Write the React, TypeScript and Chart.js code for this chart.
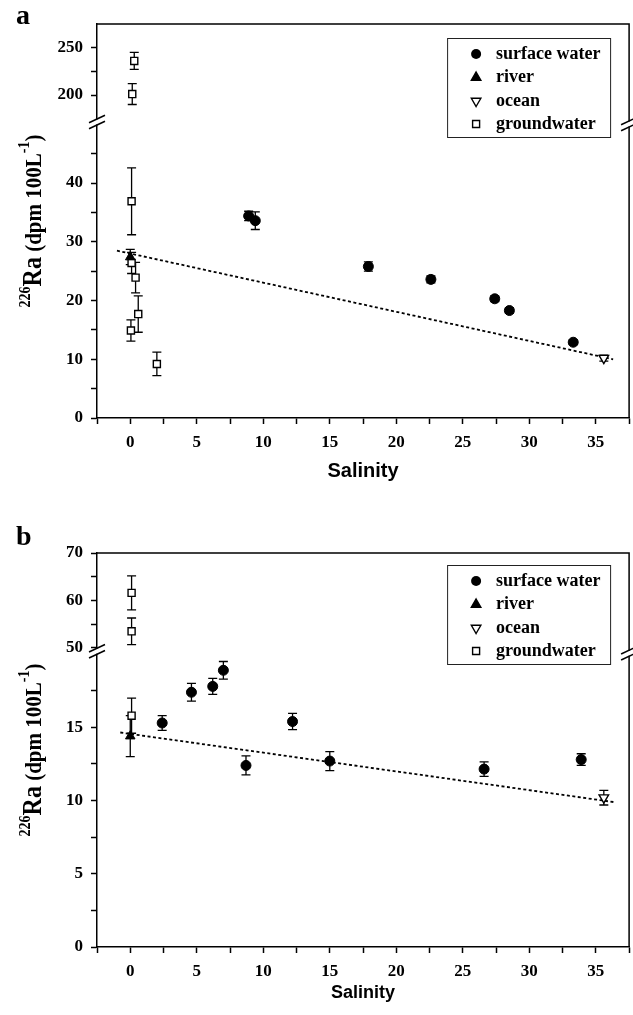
import React, { useEffect, useRef } from 'react';
import { Chart, registerables } from 'chart.js';

Chart.register(...registerables);

// ---------------- Shared ----------------
const seriesNames = ['surface water', 'river', 'ocean', 'groundwater'];
const xTickValues = [-2.5, 0, 2.5, 5, 7.5, 10, 12.5, 15, 17.5, 20, 22.5, 25, 27.5, 30, 32.5, 35, 37.5];
const xTickLabels = [0, 5, 10, 15, 20, 25, 30, 35];
const xRange = [-2.5, 37.5];

// ---------------- Panel a ----------------
const aSurfaceSalinity = [8.9, 9.4, 17.9, 22.6, 27.4, 28.5, 33.3];
const aSurfaceRa = [34.4, 33.6, 25.8, 23.6, 20.3, 18.3, 12.9];
const aSurfaceErr = [0.8, 1.5, 0.8, 0.6, 0.5, 0.5, 0.4];
const aRiverSalinity = [0.0];
const aRiverRa = [27.4];
const aRiverErr = [1.3];
const aOceanSalinity = [35.6];
const aOceanRa = [10.2];
const aOceanErr = [0.5];
const aGroundSalinity = [0.3, 0.15, 0.1, 0.1, 0.4, 0.6, 0.05, 2.0];
const aGroundRa = [236, 201, 36.9, 26.4, 23.9, 17.7, 14.9, 9.2];
const aGroundErr = [9, 11, 5.7, 1.8, 2.6, 3.1, 1.8, 2.0];
const aTrendSalinity = [-1.0, 36.3];
const aTrendRa = [28.5, 10.0];
const aLowRange = [0, 50.4];
const aHighRange = [171.5, 275];
const aLowTicks = [0, 5, 10, 15, 20, 25, 30, 35, 40, 45];
const aLowLabels = [0, 10, 20, 30, 40];
const aHighTicks = [200, 225, 250];
const aHighLabels = [200, 250];

// ---------------- Panel b ----------------
const bSurfaceSalinity = [2.4, 4.6, 6.2, 7.0, 8.7, 12.2, 15.0, 26.6, 33.9];
const bSurfaceRa = [15.3, 17.4, 17.8, 18.9, 12.4, 15.4, 12.7, 12.15, 12.8];
const bSurfaceErr = [0.5, 0.6, 0.55, 0.6, 0.65, 0.55, 0.65, 0.5, 0.4];
const bRiverSalinity = [0.0];
const bRiverRa = [14.4];
const bRiverErr = [1.4];
const bOceanSalinity = [35.6];
const bOceanRa = [10.2];
const bOceanErr = [0.5];
const bGroundSalinity = [0.1, 0.1, 0.1];
const bGroundRa = [61.6, 53.5, 15.8];
const bGroundErr = [3.6, 2.8, 1.2];
const bTrendSalinity = [-0.75, 36.5];
const bTrendRa = [14.65, 9.88];
const bLowRange = [0, 20.2];
const bHighRange = [49.3, 70];
const bLowTicks = [0, 2.5, 5, 7.5, 10, 12.5, 15, 17.5];
const bLowLabels = [0, 5, 10, 15];
const bHighTicks = [50, 55, 60, 65, 70];
const bHighLabels = [50, 60, 70];

const SERIF = '"Liberation Serif", "Times New Roman", serif';
const SANS = '"Liberation Sans", Arial, sans-serif';
const CANVAS_W = 636;

type PanelCfg = {
  letter: string;
  height: number;
  top: number;
  xAxisHeight: number;
  xTitleSize: number;
  xTitlePad: number;
  surface: [number[], number[], number[]];
  river: [number[], number[], number[]];
  ocean: [number[], number[], number[]];
  ground: [number[], number[], number[]];
  trend: [number[], number[]];
  lowRange: number[];
  highRange: number[];
  lowTicks: number[];
  lowLabels: number[];
  highTicks: number[];
  highLabels: number[];
  lowWeight: number;
  highWeight: number;
  letterY: number;
  legendTop: number;
};

const panelA: PanelCfg = {
  letter: 'a', height: 495, top: 24, xAxisHeight: 77, xTitleSize: 20, xTitlePad: 12,
  surface: [aSurfaceSalinity, aSurfaceRa, aSurfaceErr],
  river: [aRiverSalinity, aRiverRa, aRiverErr],
  ocean: [aOceanSalinity, aOceanRa, aOceanErr],
  ground: [aGroundSalinity, aGroundRa, aGroundErr],
  trend: [aTrendSalinity, aTrendRa],
  lowRange: aLowRange, highRange: aHighRange,
  lowTicks: aLowTicks, lowLabels: aLowLabels, highTicks: aHighTicks, highLabels: aHighLabels,
  lowWeight: 296, highWeight: 98, letterY: 24, legendTop: 14,
};

const panelB: PanelCfg = {
  letter: 'b', height: 520, top: 58, xAxisHeight: 68, xTitleSize: 18, xTitlePad: 11,
  surface: [bSurfaceSalinity, bSurfaceRa, bSurfaceErr],
  river: [bRiverSalinity, bRiverRa, bRiverErr],
  ocean: [bOceanSalinity, bOceanRa, bOceanErr],
  ground: [bGroundSalinity, bGroundRa, bGroundErr],
  trend: [bTrendSalinity, bTrendRa],
  lowRange: bLowRange, highRange: bHighRange,
  lowTicks: bLowTicks, lowLabels: bLowLabels, highTicks: bHighTicks, highLabels: bHighLabels,
  lowWeight: 295, highWeight: 98, letterY: 50, legendTop: 12,
};

function drawMarker(ctx: CanvasRenderingContext2D, kind: number, x: number, y: number) {
  ctx.save();
  ctx.strokeStyle = '#000';
  ctx.lineWidth = 1.4;
  ctx.beginPath();
  if (kind === 0) {
    ctx.arc(x, y, 5, 0, Math.PI * 2);
    ctx.fillStyle = '#000';
    ctx.fill();
  } else if (kind === 1) {
    const r = 5.5;
    ctx.moveTo(x, y - r);
    ctx.lineTo(x + r * 0.866, y + r * 0.5);
    ctx.lineTo(x - r * 0.866, y + r * 0.5);
    ctx.closePath();
    ctx.fillStyle = '#000';
    ctx.fill();
    ctx.stroke();
  } else if (kind === 2) {
    const r = 5.5;
    ctx.moveTo(x, y + r);
    ctx.lineTo(x + r * 0.866, y - r * 0.5);
    ctx.lineTo(x - r * 0.866, y - r * 0.5);
    ctx.closePath();
    ctx.fillStyle = '#fff';
    ctx.fill();
    ctx.stroke();
  } else {
    ctx.rect(x - 3.5, y - 3.5, 7, 7);
    ctx.fillStyle = '#fff';
    ctx.fill();
    ctx.stroke();
  }
  ctx.restore();
}

function drawBreak(ctx: CanvasRenderingContext2D, x: number, y: number) {
  ctx.save();
  ctx.fillStyle = '#fff';
  ctx.fillRect(x - 2, y - 2.5, 4, 5);
  ctx.strokeStyle = '#000';
  ctx.lineWidth = 1.5;
  for (const yc of [y - 3, y + 3]) {
    ctx.beginPath();
    ctx.moveTo(x - 8, yc + 3.8);
    ctx.lineTo(x + 8, yc - 3.8);
    ctx.stroke();
  }
  ctx.restore();
}

function drawYTitle(ctx: CanvasRenderingContext2D, bx: number, cy: number) {
  const parts = [
    { t: '226', size: 14, dy: -10 },
    { t: 'Ra', size: 24, dy: 0 },
    { t: ' (dpm 100L', size: 21, dy: 0 },
    { t: '-1', size: 14, dy: -11 },
    { t: ')', size: 21, dy: 0 },
  ];
  ctx.save();
  let total = 0;
  const widths = parts.map((p) => {
    ctx.font = `bold ${p.size}px ${SERIF}`;
    const w = ctx.measureText(p.t).width;
    total += w;
    return w;
  });
  ctx.translate(bx, cy);
  ctx.rotate(-Math.PI / 2);
  ctx.scale(1, 1.12);
  ctx.fillStyle = '#000';
  ctx.textBaseline = 'alphabetic';
  ctx.textAlign = 'left';
  let x = -total / 2;
  parts.forEach((p, i) => {
    ctx.font = `bold ${p.size}px ${SERIF}`;
    ctx.fillText(p.t, x, p.dy);
    x += widths[i];
  });
  ctx.restore();
}

function makeDecorPlugin(p: PanelCfg) {
  return {
    id: 'decor' + p.letter,
    beforeDatasetsDraw(chart: any) {
      const ctx: CanvasRenderingContext2D = chart.ctx;
      ctx.save();
      ctx.strokeStyle = '#000';
      ctx.lineWidth = 1.3;
      chart.data.datasets.forEach((ds: any, i: number) => {
        if (!ds.hasErrors) return;
        const meta = chart.getDatasetMeta(i);
        const ys = meta.yScale;
        ds.data.forEach((pt: any, j: number) => {
          const el = meta.data[j];
          if (!el) return;
          const px = el.x;
          const top = ys.getPixelForValue(pt.y + pt.e);
          const bot = ys.getPixelForValue(pt.y - pt.e);
          ctx.beginPath();
          ctx.moveTo(px, top);
          ctx.lineTo(px, bot);
          ctx.moveTo(px - 4.5, top);
          ctx.lineTo(px + 4.5, top);
          ctx.moveTo(px - 4.5, bot);
          ctx.lineTo(px + 4.5, bot);
          ctx.stroke();
        });
      });
      ctx.restore();
    },
    afterDraw(chart: any) {
      const ctx: CanvasRenderingContext2D = chart.ctx;
      const a = chart.chartArea;
      ctx.save();
      // frame (top + right)
      ctx.strokeStyle = '#000';
      ctx.lineWidth = 1.5;
      ctx.beginPath();
      ctx.moveTo(a.left, a.top);
      ctx.lineTo(a.right, a.top);
      ctx.lineTo(a.right, a.bottom);
      ctx.stroke();
      // breaks
      const yb = chart.scales.yLow.top;
      drawBreak(ctx, a.left, yb);
      drawBreak(ctx, a.right, yb + 2);
      // legend
      const boxW = 163;
      const boxH = 99;
      const bx = a.right - 19 - boxW;
      const by = a.top + p.legendTop;
      ctx.fillStyle = '#fff';
      ctx.fillRect(bx, by, boxW, boxH);
      ctx.strokeStyle = '#222';
      ctx.lineWidth = 1;
      ctx.strokeRect(bx + 0.5, by + 0.5, boxW, boxH);
      const rows = [16, 39.5, 63, 86];
      seriesNames.forEach((name, k) => {
        const ry = by + rows[k];
        drawMarker(ctx, k, bx + 29, ry);
        ctx.fillStyle = '#000';
        ctx.font = `bold 18px ${SERIF}`;
        ctx.textBaseline = 'middle';
        ctx.textAlign = 'left';
        ctx.fillText(name, bx + 49, ry);
      });
      // panel letter
      ctx.font = `bold 28px ${SERIF}`;
      ctx.textBaseline = 'alphabetic';
      ctx.fillStyle = '#000';
      ctx.fillText(p.letter, 16, p.letterY);
      ctx.restore();
      // y title
      drawYTitle(ctx, 41, (a.top + a.bottom) / 2);
    },
  };
}

function buildConfig(p: PanelCfg): any {
  const lowMax = p.lowRange[1];
  const pts = (xs: number[], ys: number[], es: number[]) =>
    xs.map((x, i) => ({ x, y: ys[i], e: es[i] }));
  const groundAll = pts(p.ground[0], p.ground[1], p.ground[2]);
  const groundLow = groundAll.filter((d) => d.y <= lowMax);
  const groundHigh = groundAll.filter((d) => d.y > lowMax);
  const tickFont = { family: SERIF, size: 17, weight: 'bold' as const };

  const yScale = (range: number[], ticks: number[], labels: number[], weight: number, stackWeight: number) => ({
    type: 'linear',
    position: 'left',
    stack: 'ra',
    stackWeight,
    weight,
    min: range[0],
    max: range[1],
    afterBuildTicks: (s: any) => {
      s.ticks = ticks.map((v) => ({ value: v }));
    },
    afterFit: (s: any) => {
      s.width = 97;
      s.paddingTop = 0;
      s.paddingBottom = 0;
    },
    ticks: {
      autoSkip: false,
      font: tickFont,
      color: '#000',
      padding: 8,
      callback: (v: number) => (labels.includes(v) ? String(v) : ''),
    },
    grid: { display: true, drawOnChartArea: false, color: '#000', tickLength: 6, tickWidth: 1.5 },
    border: { display: true, color: '#000', width: 1.5 },
  });

  return {
    type: 'scatter',
    data: {
      datasets: [
        {
          label: 'trend',
          data: p.trend[0].map((x, i) => ({ x, y: p.trend[1][i] })),
          showLine: true,
          borderColor: '#000',
          borderWidth: 1.8,
          borderDash: [3, 2.5],
          pointRadius: 0,
          yAxisID: 'yLow',
          order: 10,
        },
        {
          label: seriesNames[0],
          data: pts(p.surface[0], p.surface[1], p.surface[2]),
          hasErrors: true,
          pointStyle: 'circle',
          pointRadius: 5,
          backgroundColor: '#000',
          borderColor: '#000',
          borderWidth: 1,
          yAxisID: 'yLow',
        },
        {
          label: seriesNames[1],
          data: pts(p.river[0], p.river[1], p.river[2]),
          hasErrors: true,
          pointStyle: 'triangle',
          pointRadius: 5.5,
          backgroundColor: '#000',
          borderColor: '#000',
          borderWidth: 1,
          yAxisID: 'yLow',
        },
        {
          label: seriesNames[2],
          data: pts(p.ocean[0], p.ocean[1], p.ocean[2]),
          hasErrors: true,
          pointStyle: 'triangle',
          rotation: 180,
          pointRadius: 5.5,
          backgroundColor: '#fff',
          borderColor: '#000',
          borderWidth: 1.4,
          yAxisID: 'yLow',
        },
        {
          label: seriesNames[3],
          data: groundLow,
          hasErrors: true,
          pointStyle: 'rect',
          pointRadius: 5,
          backgroundColor: '#fff',
          borderColor: '#000',
          borderWidth: 1.4,
          yAxisID: 'yLow',
        },
        {
          label: seriesNames[3] + ' (high)',
          data: groundHigh,
          hasErrors: true,
          pointStyle: 'rect',
          pointRadius: 5,
          backgroundColor: '#fff',
          borderColor: '#000',
          borderWidth: 1.4,
          yAxisID: 'yHigh',
        },
      ],
    },
    options: {
      responsive: false,
      maintainAspectRatio: false,
      animation: false,
      devicePixelRatio: 1,
      layout: { padding: { left: 0, right: 3, top: p.top, bottom: 0 } },
      plugins: { legend: { display: false }, tooltip: { enabled: false } },
      scales: {
        x: {
          type: 'linear',
          position: 'bottom',
          min: xRange[0],
          max: xRange[1],
          afterBuildTicks: (s: any) => {
            s.ticks = xTickValues.map((v) => ({ value: v }));
          },
          afterFit: (s: any) => {
            s.height = p.xAxisHeight;
            s.paddingLeft = 0;
            s.paddingRight = 0;
          },
          ticks: {
            autoSkip: false,
            maxRotation: 0,
            font: tickFont,
            color: '#000',
            padding: 8,
            callback: (v: number) => (xTickLabels.includes(v) ? String(v) : ''),
          },
          grid: { display: true, drawOnChartArea: false, color: '#000', tickLength: 6, tickWidth: 1.5 },
          border: { display: true, color: '#000', width: 1.5 },
          title: {
            display: true,
            text: 'Salinity',
            color: '#000',
            font: { family: SANS, size: p.xTitleSize, weight: 'bold' },
            padding: { top: 0, bottom: p.xTitlePad },
          },
        },
        yLow: yScale(p.lowRange, p.lowTicks, p.lowLabels, 1, p.lowWeight),
        yHigh: yScale(p.highRange, p.highTicks, p.highLabels, 2, p.highWeight),
      },
    },
    plugins: [makeDecorPlugin(p)],
  };
}

function Panel({ cfg }: { cfg: PanelCfg }) {
  const ref = useRef<HTMLCanvasElement>(null);
  useEffect(() => {
    if (!ref.current) return;
    const chart = new Chart(ref.current, buildConfig(cfg));
    return () => chart.destroy();
  }, [cfg]);
  return (
    <canvas
      ref={ref}
      width={CANVAS_W}
      height={cfg.height}
      style={{ display: 'block', width: CANVAS_W, height: cfg.height }}
    />
  );
}

export default function App() {
  return (
    <div
      style={{
        position: 'absolute',
        left: 0,
        top: 0,
        width: 633,
        height: 1015,
        overflow: 'hidden',
        background: '#fff',
      }}
    >
      <Panel cfg={panelA} />
      <Panel cfg={panelB} />
    </div>
  );
}
